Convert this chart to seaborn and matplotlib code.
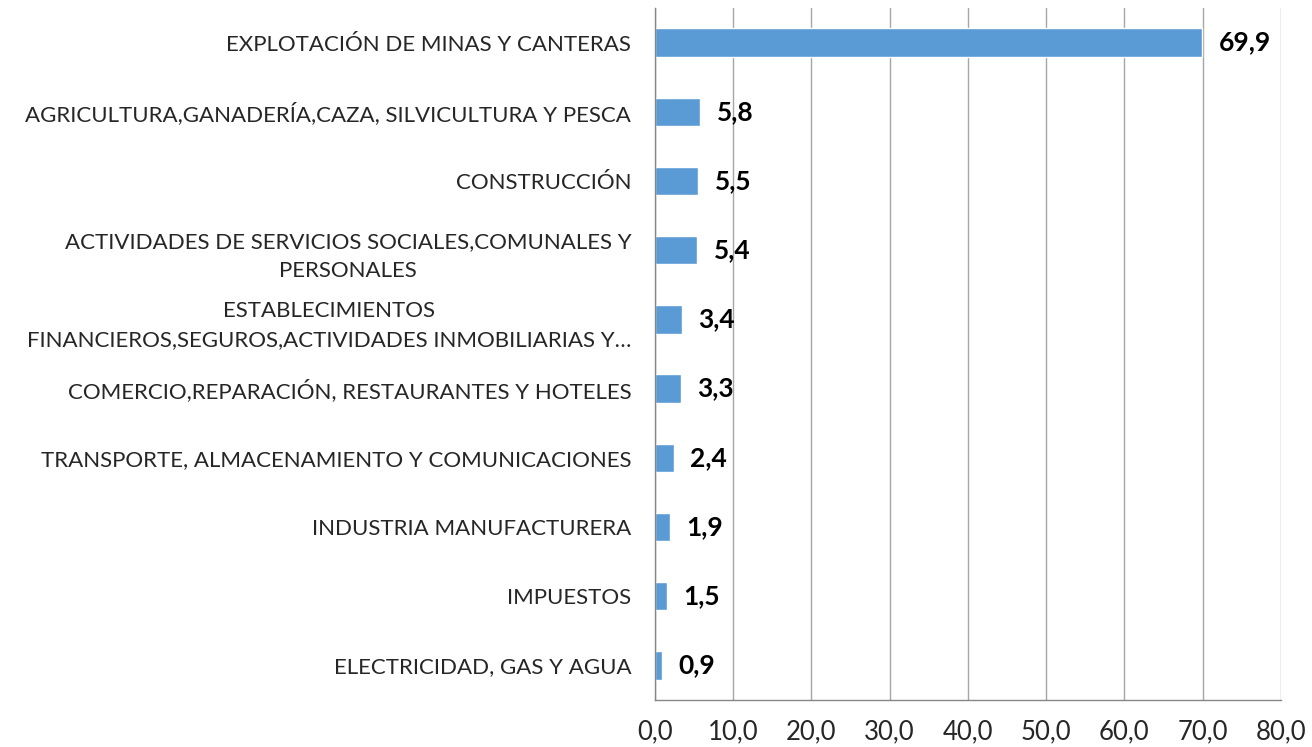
import matplotlib
matplotlib.use("Agg")
import matplotlib.pyplot as plt
import seaborn as sns
import pandas as pd

categories = [
    "EXPLOTACIÓN DE MINAS Y CANTERAS",
    "AGRICULTURA,GANADERÍA,CAZA, SILVICULTURA Y PESCA",
    "CONSTRUCCIÓN",
    "ACTIVIDADES DE SERVICIOS SOCIALES,COMUNALES Y\nPERSONALES",
    "ESTABLECIMIENTOS\nFINANCIEROS,SEGUROS,ACTIVIDADES INMOBILIARIAS Y…",
    "COMERCIO,REPARACIÓN, RESTAURANTES Y HOTELES",
    "TRANSPORTE, ALMACENAMIENTO Y COMUNICACIONES",
    "INDUSTRIA MANUFACTURERA",
    "IMPUESTOS",
    "ELECTRICIDAD, GAS Y AGUA",
]
values = [69.9, 5.8, 5.5, 5.4, 3.4, 3.3, 2.4, 1.9, 1.5, 0.9]
x_ticks = [0, 10, 20, 30, 40, 50, 60, 70, 80]

sns.set_theme(style="white")
plt.rcParams["font.family"] = ["Lato", "DejaVu Sans"]

df = pd.DataFrame({"cat": categories, "val": values})

fig = plt.figure(figsize=(13.12, 7.47), dpi=100)
ax = fig.add_axes([0.4992, 0.0629, 0.4771, 0.9264])

sns.barplot(data=df, y="cat", x="val", orient="h", color="#5B9BD5",
            saturation=1, width=0.41, ax=ax)

ax.set_xlim(0, 80)
ax.set_ylim(len(categories) - 0.5, -0.5)
ax.set_xticks(x_ticks)
ax.set_xticklabels([f"{t:.1f}".replace(".", ",") for t in x_ticks], fontsize=18.5)
ax.set_xlabel("")
ax.set_ylabel("")

ax.set_yticks(range(len(categories)))
ax.set_yticklabels(categories, fontsize=16, multialignment="center")
for t in ax.get_yticklabels():
    t.set_linespacing(1.55)
ax.tick_params(axis="y", length=0, pad=17)
# minor ticks at category boundaries
ax.set_yticks([i - 0.5 for i in range(len(categories) + 1)], minor=True)
ax.tick_params(axis="y", which="minor", length=6, color="#808080", width=1)
ax.tick_params(axis="x", length=6, color="#808080", width=1, pad=8)

ax.grid(axis="x", color="#A6A6A6", linewidth=1)
ax.set_axisbelow(True)
for s in ["top", "right"]:
    ax.spines[s].set_visible(False)
for s in ["left", "bottom"]:
    ax.spines[s].set_color("#868686")
    ax.spines[s].set_linewidth(1)

for i, v in enumerate(values):
    ax.annotate(f"{v:.1f}".replace(".", ","), xy=(v, i), xytext=(12, 0),
                textcoords="offset points", va="center", ha="left",
                fontsize=19, fontweight="bold", color="black")

fig.savefig("out.png", dpi=100)
